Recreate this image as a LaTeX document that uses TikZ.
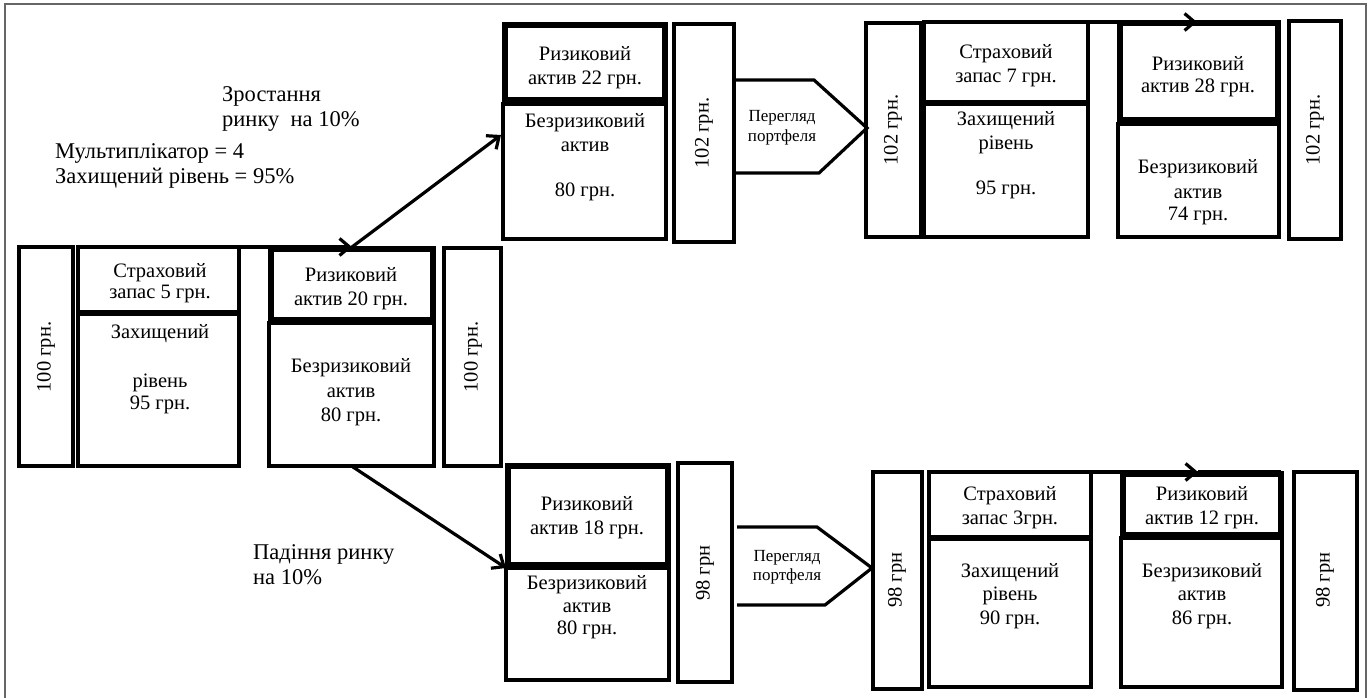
\documentclass[tikz,border=0pt]{standalone}
\usepackage{fontspec}
\setmainfont{Liberation Serif}
\usetikzlibrary{arrows.meta,fit}
\begin{document}
\begin{tikzpicture}[x=1pt,y=-1pt,
  bx/.style={draw, line width=3.4pt, inner sep=-1pt, outer sep=0pt},
  bxthick/.style={draw, line width=6pt, inner sep=-2.5pt, outer sep=0pt},
  txt/.style={font=\fontsize{20.5}{24.5}\selectfont, align=center, inner sep=0pt},
  small/.style={font=\fontsize{17}{19.5}\selectfont, align=center, inner sep=0pt},
  side/.style={font=\fontsize{22.5}{25}\selectfont, align=left, inner sep=0pt, anchor=west},
  conn/.style={line width=3.2pt},
  arr/.style={conn, -{Straight Barb[length=10pt,width=17pt]}},
  frame/.style={draw=black!60, line width=1.3pt}]
\useasboundingbox (0,0) rectangle (1368,698);
% outer frame
\draw[frame] (5,698) -- (5,4) -- (1366,4) -- (1366,698);

% ---------- left group ----------
\node[bx, fit={(18,246)(74,467)}] (v100a) {};
\node[bx, fit={(77,313)(240,467)}] (p95a) {};
\node[bx, fit={(77,246)(240,313)}] (s5) {};
\node[bx, fit={(268,322)(435,467)}] (rl20) {};
\node[bxthick, fit={(268,246)(435,322)}] (r20) {};
\node[bx, fit={(443,247)(502,467)}] (v100b) {};

\node[txt, rotate=90] (tv100a) at (46,357) {100 грн.};
\node[txt] (ts5) at (160,283) {Страховий\\[-4pt]запас 5 грн.};
\node[txt] (tp95a) at (160,369) {Захищений\\[24.5pt]рівень\\[-2pt]95 грн.};
\node[txt] (tr20) at (351,288.5) {Ризиковий\\актив 20 грн.};
\node[txt] (trl20) at (351,392.5) {Безризиковий\\актив\\80 грн.};
\node[txt, rotate=90] (tv100b) at (473,357) {100 грн.};

% ---------- upper group ----------
\node[bx, fit={(502,103)(667,240)}] (rl22) {};
\node[bxthick, fit={(502,23)(667,103)}] (r22) {};
\node[bx, fit={(673,23)(735,243)}] (v102a) {};
\draw[line width=3.2pt, line join=miter] (735,80) -- (814,80) -- (867,128) -- (819,173) -- (735,173);
\node[bx, fit={(865,22)(922,238)}] (v102b) {};
\node[bx, fit={(923,103)(1089,238)}] (p95b) {};
\node[bx, fit={(923,21)(1089,103)}] (s7) {};
\node[bx, fit={(1117,123)(1280,238)}] (rl28) {};
\node[bxthick, fit={(1117,21)(1280,123)}] (r28) {};
\node[bx, fit={(1288,20)(1342,240)}] (v102c) {};

\node[txt] (tr22) at (585,67.5) {Ризиковий\\актив 22 грн.};
\node[txt] (trl22) at (585,157) {Безризиковий\\актив\\[20pt]80 грн.};
\node[txt, rotate=90] (tv102a) at (704,133) {102 грн.};
\node[small] (tpg1) at (782,127.5) {Перегляд\\портфеля};
\node[txt, rotate=90] (tv102b) at (893,130) {102 грн.};
\node[txt] (ts7) at (1006,65.5) {Страховий\\запас 7 грн.};
\node[txt] (tp95b) at (1006,155) {Захищений\\рівень\\[20pt]95 грн.};
\node[txt] (tr28) at (1198,76.5) {Ризиковий\\[-2pt]актив 28 грн.};
\node[txt] (trl28) at (1198,192.5) {Безризиковий\\актив\\[-2pt]74 грн.};
\node[txt, rotate=90] (tv102c) at (1315,130) {102 грн.};

% ---------- lower group ----------
\node[bx, fit={(505,567)(670,681)}] (rl18) {};
\node[bxthick, fit={(505,463)(670,567)}] (r18) {};
\node[bx, fit={(677,462)(733,683)}] (v98a) {};
\draw[line width=3.2pt, line join=miter] (737,527) -- (817,527) -- (872,568) -- (825,605) -- (737,605);
\node[bx, fit={(872,471)(923,690)}] (v98b) {};
\node[bx, fit={(928,538)(1092,688)}] (p90) {};
\node[bx, fit={(928,471)(1092,538)}] (s3) {};
\node[bx, fit={(1120,537)(1283,688)}] (rl12) {};
\node[bxthick, fit={(1120,471)(1283,537)}] (r12) {};
\node[bx, fit={(1293,471)(1358,691)}] (v98c) {};

\node[txt] (tr18) at (587,517.5) {Ризиковий\\актив 18 грн.};
\node[txt] (trl18) at (587,607.5) {Безризиковий\\[-2pt]актив\\[-2pt]80 грн.};
\node[txt, rotate=90] (tv98a) at (705,573) {98 грн};
\node[small] (tpg2) at (787,567) {Перегляд\\портфеля};
\node[txt, rotate=90] (tv98b) at (897,580) {98 грн};
\node[txt] (ts3) at (1010,507.5) {Страховий\\запас 3грн.};
\node[txt] (tp90) at (1010,596) {Захищений\\[-1pt]рівень\\[-1pt]90 грн.};
\node[txt] (tr12) at (1202,507.5) {Ризиковий\\актив 12 грн.};
\node[txt] (trl12) at (1202,596) {Безризиковий\\[-1pt]актив\\[-1pt]86 грн.};
\node[txt, rotate=90] (tv98c) at (1325,580) {98 грн};

% ---------- side labels ----------
\node[side] (grow) at (222,108.5) {Зростання\\ринку\ \ на 10\%};
\node[side] (params) at (55,165.5) {Мультиплікатор = 4\\Захищений рівень = 95\%};
\node[side] (fall) at (253,565) {Падіння ринку\\на 10\%};

% ---------- connectors ----------
\coordinate (x1) at (352,0);
\coordinate (x3) at (1197,0);
\coordinate (x4) at (1198,0);
\coordinate (j1) at (s5.north east -| x1);
\coordinate (t1) at (501,135);
\coordinate (j2) at (353,467);
\coordinate (j3) at (s7.north east -| x3);
\coordinate (j4) at (s3.north east -| x4);
\draw[arr] (s5.north east) -- (j1);
\draw[arr] (j1) -- (t1);
\draw[arr] (j2) -- (rl18.north west);
\draw[arr] (s7.north east) -- (j3);
\draw[conn] (j3) -- (j3 -| r28.north east);
\draw[arr] (s3.north east) -- (j4);
\draw[conn] (j4) -- (j4 -| r12.north east);
\end{tikzpicture}
\end{document}
